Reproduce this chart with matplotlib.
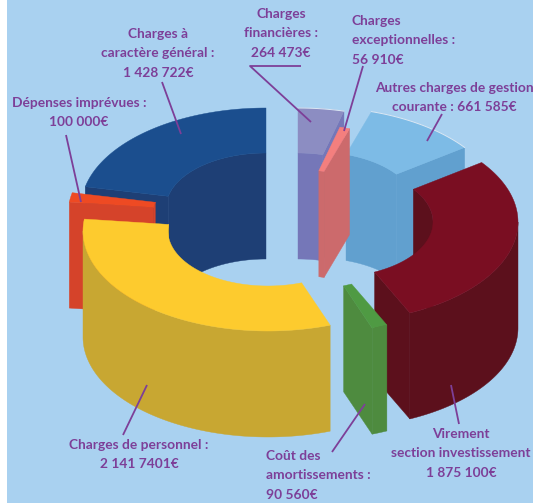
"""Exploded 3D donut of the budget expenses, drawn in pixel space."""
import numpy as np
import matplotlib
matplotlib.use("Agg")
import matplotlib.pyplot as plt
from matplotlib.patches import Polygon

W, H = 533, 503
plt.rcParams["font.family"] = ["Lato", "DejaVu Sans"]

# --- data, clockwise from 12 o'clock -----------------------------------------
names = ["financieres", "exceptionnelles", "autres", "virement",
         "amortissements", "personnel", "imprevues", "general"]
values = [264473, 56910, 661585, 1875100, 90560, 2141740, 100000, 1428722]

# --- look of each slice ------------------------------------------------------
tops = ["#8C8DC2", "#F47F7E", "#7DBBE6", "#7A0E22", "#4F9A43", "#FDCB2E", "#EE4A23", "#1B4E8E"]
walls = ["#7577B8", "#CC6A6C", "#61A0CF", "#5C101C", "#4E8B3F", "#C8A732", "#D5432A", "#1E3F75"]
centers = [(298, 208), (294, 224), (316, 207), (333, 222),
           (310, 234), (268, 231), (253, 214), (266, 208)]
draw_order = [7, 0, 2, 1, 3, 6, 5, 4]
lit_rims = [0, 2]

RX, RY = 185, 100   # outer ellipse
IX, IY = 100, 55    # inner ellipse
DEPTH = 106
BG = "#A9D1F0"
PURPLE = "#7D3F98"

edges = np.concatenate([[0], np.cumsum(values)]) / sum(values) * 360


def rim(c, a, rx, ry):
    t = np.radians(a)
    return np.column_stack([c[0] + rx * np.sin(t), c[1] - ry * np.cos(t)])


def arc(a0, a1):
    return np.linspace(a0, a1, max(int(abs(a1 - a0)) * 2, 2))


def wall(ax, pts, color, z):
    low = pts[::-1] + [0, DEPTH]
    ax.add_patch(Polygon(np.vstack([pts, low]), fc=color, ec=color, lw=0.3, zorder=z))


def draw_slice(ax, i, z):
    a0, a1 = edges[i], edges[i + 1]
    c = centers[i]
    col = walls[i]
    # inner wall only shows on the far half
    for lo, hi in [(0, 90), (270, 360)]:
        b0, b1 = max(a0, lo), min(a1, hi)
        if b1 > b0:
            wall(ax, rim(c, arc(b0, b1), IX, IY), col, z)
    # cut faces turned toward the viewer
    for a, shown in [(a0, np.sin(np.radians(a0)) < 0), (a1, np.sin(np.radians(a1)) > 0)]:
        if shown:
            wall(ax, np.vstack([rim(c, [a], IX, IY), rim(c, [a], RX, RY)]), col, z + 0.1)
    # outer wall on the near half
    b0, b1 = max(a0, 90), min(a1, 270)
    if b1 > b0:
        wall(ax, rim(c, arc(b0, b1), RX, RY), col, z + 0.2)
    top = np.vstack([rim(c, arc(a0, a1), RX, RY), rim(c, arc(a1, a0), IX, IY)])
    ax.add_patch(Polygon(top, fc=tops[i], ec=tops[i], lw=0.3, zorder=z + 0.3))
    if i in lit_rims:
        pts = rim(c, arc(a0, a1), RX, RY)
        ax.plot(pts[:, 0], pts[:, 1], color="#DCE8F4", lw=0.7, zorder=z + 0.4)


fig = plt.figure(figsize=(W / 100, H / 100), dpi=100, facecolor="white")
ax = fig.add_axes([0, 0, 1, 1])
ax.set_xlim(0, W)
ax.set_ylim(H, 0)
ax.axis("off")
ax.add_patch(plt.Rectangle((7, 0), W - 7, H, fc=BG, ec="none", zorder=0))

for n, i in enumerate(draw_order):
    draw_slice(ax, i, 1 + n)

# leader lines
leaders = [
    [(301, 66), (250, 66), (311, 122)],
    [(363, 66), (344, 131)],
    [(442, 114), (427, 141)],
    [(162, 82), (181, 134)],
    [(66, 135), (81, 202)],
    [(147, 385), (123, 435)],
    [(365, 404), (332, 452)],
    [(451, 385), (459, 424)],
]
for pts in leaders:
    xs, ys = zip(*pts)
    ax.plot(xs, ys, color=PURPLE, lw=1.3, zorder=20, solid_capstyle="butt")

# labels: text, anchor x, first line centre y, alignment
labels = [
    (["Charges", "financières :", "264 473€"], 281, 14, "center"),
    (["Charges", "exceptionnelles :", "56 910€"], 352, 21, "left"),
    (["Autres charges de gestion", "courante : 661 585€"], 454, 88, "center"),
    (["Charges à", "caractère général :", "1 428 722€"], 158, 34, "center"),
    (["Dépenses imprévues :", "100 000€"], 79, 103, "center"),
    (["Charges de personnel :", "2 141 7401€"], 139, 445, "center"),
    (["Coût des", "amortissements :", "90 560€"], 266, 456, "left"),
    (["Virement", "section investissement", "1 875 100€"], 461, 434, "center"),
]
for lines, x, y, ha in labels:
    for k, line in enumerate(lines):
        ax.text(x, y + k * 19.3, line, ha=ha, va="center", color=PURPLE,
                fontsize=9.9, fontweight="bold", zorder=21)

fig.savefig("out.png", dpi=100)
